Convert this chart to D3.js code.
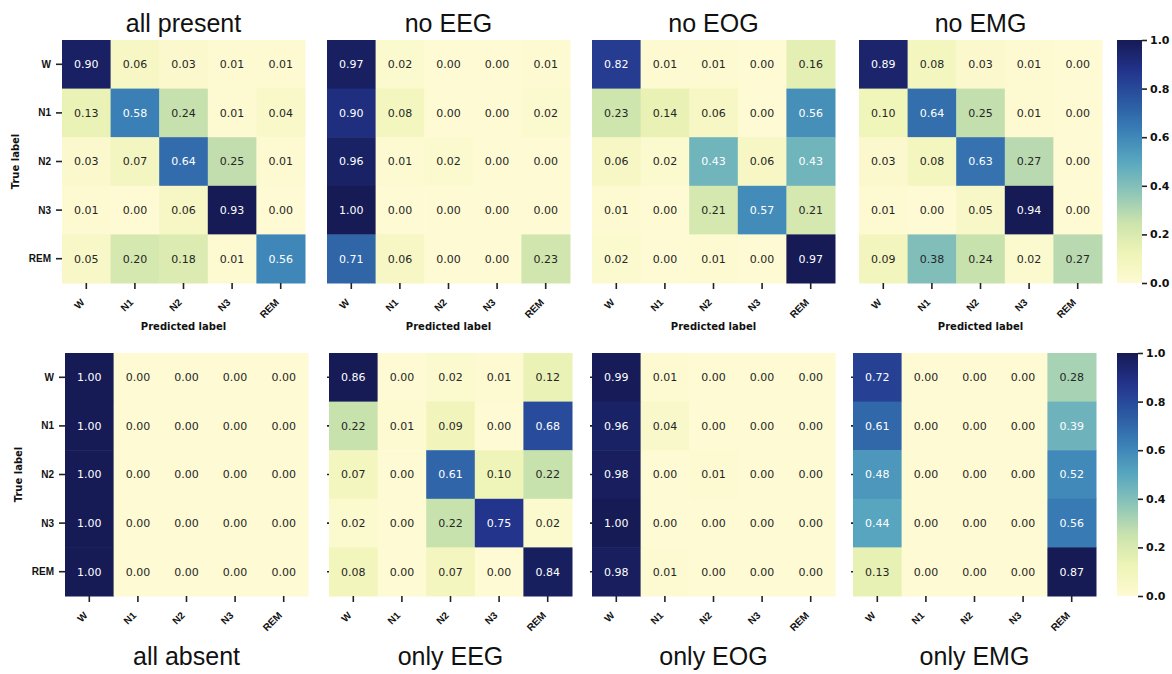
<!DOCTYPE html>
<html>
<head>
<meta charset="utf-8">
<script src="https://cdn.jsdelivr.net/npm/d3@7"></script>
<style>
body {margin:0; background:#fff;}
</style>
</head>
<body>
<svg></svg>
<script>
var stages = ["W", "N1", "N2", "N3", "REM"]

var allPresent = [[0.90,0.06,0.03,0.01,0.01],[0.13,0.58,0.24,0.01,0.04],[0.03,0.07,0.64,0.25,0.01],[0.01,0.00,0.06,0.93,0.00],[0.05,0.20,0.18,0.01,0.56]]
var noEEG = [[0.97,0.02,0.00,0.00,0.01],[0.90,0.08,0.00,0.00,0.02],[0.96,0.01,0.02,0.00,0.00],[1.00,0.00,0.00,0.00,0.00],[0.71,0.06,0.00,0.00,0.23]]
var noEOG = [[0.82,0.01,0.01,0.00,0.16],[0.23,0.14,0.06,0.00,0.56],[0.06,0.02,0.43,0.06,0.43],[0.01,0.00,0.21,0.57,0.21],[0.02,0.00,0.01,0.00,0.97]]
var noEMG = [[0.89,0.08,0.03,0.01,0.00],[0.10,0.64,0.25,0.01,0.00],[0.03,0.08,0.63,0.27,0.00],[0.01,0.00,0.05,0.94,0.00],[0.09,0.38,0.24,0.02,0.27]]
var allAbsent = [[1.00,0.00,0.00,0.00,0.00],[1.00,0.00,0.00,0.00,0.00],[1.00,0.00,0.00,0.00,0.00],[1.00,0.00,0.00,0.00,0.00],[1.00,0.00,0.00,0.00,0.00]]
var onlyEEG = [[0.86,0.00,0.02,0.01,0.12],[0.22,0.01,0.09,0.00,0.68],[0.07,0.00,0.61,0.10,0.22],[0.02,0.00,0.22,0.75,0.02],[0.08,0.00,0.07,0.00,0.84]]
var onlyEOG = [[0.99,0.01,0.00,0.00,0.00],[0.96,0.04,0.00,0.00,0.00],[0.98,0.00,0.01,0.00,0.00],[1.00,0.00,0.00,0.00,0.00],[0.98,0.01,0.00,0.00,0.00]]
var onlyEMG = [[0.72,0.00,0.00,0.00,0.28],[0.61,0.00,0.00,0.00,0.39],[0.48,0.00,0.00,0.00,0.52],[0.44,0.00,0.00,0.00,0.56],[0.13,0.00,0.00,0.00,0.87]]

var topTitles = ["all present", "no EEG", "no EOG", "no EMG"]
var bottomTitles = ["all absent", "only EEG", "only EOG", "only EMG"]
var topMatrices = [allPresent, noEEG, noEOG, noEMG]
var bottomMatrices = [allAbsent, onlyEEG, onlyEOG, onlyEMG]
var cbarTicks = [0.0, 0.2, 0.4, 0.6, 0.8, 1.0]

// YlGnBu, toned to the slightly muted print of the figure
var palette = ["#fefad3", "#eef4b6", "#cbe3ad", "#8dc5b8", "#58a7bf", "#3a80b6", "#2b58a2", "#23338b", "#161a55"]

var screen = {width: 1172, height: 674}
var size = 243
var rows = [
    {y: 40, xs: [62, 327, 592, 859], titles: topTitles, mats: topMatrices, titleY: 32, xlabel: true, cbarW: 25, ytick: 0},
    {y: 353, xs: [65, 329, 592, 853], titles: bottomTitles, mats: bottomMatrices, titleY: 665, xlabel: false, cbarW: 21, ytick: 2}
]
var cbarX = 1117

var svg = d3.select("svg")
    .attr("width", screen.width)
    .attr("height", screen.height)
    .style("font-family", "'DejaVu Sans', sans-serif")

// seaborn picks dark or white annotation text from the cell luminance
var textColor = function(c)
{
    var rgb = d3.rgb(c)
    var lin = [rgb.r, rgb.g, rgb.b].map(function(v) {
        v = v / 255
        return v <= 0.03928 ? v / 12.92 : Math.pow((v + 0.055) / 1.055, 2.4)
    })
    var lum = 0.2126 * lin[0] + 0.7152 * lin[1] + 0.0722 * lin[2]
    return lum > 0.408 ? "#262626" : "#ffffff"
}

var drawPanel = function(mat, title, x0, y0, row, col)
{
    var g = svg.append("g").attr("transform", "translate(" + x0 + "," + y0 + ")")

    var xScale = d3.scaleBand().domain(stages).range([0, size])
    var yScale = d3.scaleBand().domain(stages).range([0, size])

    var ext = d3.extent(d3.merge(mat))
    var cScale = d3.scaleLinear()
        .domain(d3.range(9).map(function(i) { return ext[0] + (ext[1] - ext[0]) * i / 8 }))
        .range(palette)

    var cells = []
    mat.forEach(function(r, i) {
        r.forEach(function(v, j) { cells.push({t: stages[i], p: stages[j], v: v}) })
    })

    g.selectAll("rect.cell")
        .data(cells)
        .enter()
        .append("rect")
        .attr("class", "cell")
        .attr("x", function(d) { return xScale(d.p) })
        .attr("y", function(d) { return yScale(d.t) })
        .attr("width", xScale.bandwidth() + 0.5)
        .attr("height", yScale.bandwidth() + 0.5)
        .attr("fill", function(d) { return cScale(d.v) })

    g.selectAll("text.val")
        .data(cells)
        .enter()
        .append("text")
        .attr("class", "val")
        .attr("x", function(d) { return xScale(d.p) + xScale.bandwidth() / 2 })
        .attr("y", function(d) { return yScale(d.t) + yScale.bandwidth() / 2 })
        .attr("dy", "0.36em")
        .attr("text-anchor", "middle")
        .attr("font-size", 11)
        .attr("fill", function(d) { return textColor(cScale(d.v)) })
        .text(function(d) { return d.v.toFixed(2) })

    // x axis
    var xAxis = g.append("g").attr("transform", "translate(0," + size + ")")
        .call(d3.axisBottom(xScale).tickSize(6).tickFormat(""))
    xAxis.select(".domain").remove()
    xAxis.selectAll("line").attr("stroke", "#222").attr("stroke-width", 1.6)
    xAxis.selectAll(".tick")
        .append("text")
        .attr("transform", "translate(-1,20) rotate(-45)")
        .attr("text-anchor", "end")
        .attr("fill", "#111")
        .attr("font-size", 10)
        .attr("font-weight", "bold")
        .text(function(d) { return d })

    // y axis, labels on the first column only
    var yAxis = g.append("g")
        .call(d3.axisLeft(yScale).tickSize(col == 0 ? 6 : row.ytick).tickFormat(""))
    yAxis.select(".domain").remove()
    yAxis.selectAll("line").attr("stroke", "#222").attr("stroke-width", 1.6)
    if (col == 0) {
        yAxis.selectAll(".tick")
            .append("text")
            .attr("x", -11)
            .attr("dy", "0.35em")
            .attr("text-anchor", "end")
            .attr("fill", "#111")
            .attr("font-size", 10)
            .attr("font-weight", "bold")
            .text(function(d) { return d })

        g.append("text")
            .attr("transform", "translate(-43," + size / 2 + ") rotate(-90)")
            .attr("text-anchor", "middle")
            .attr("font-size", 10)
            .attr("font-weight", "bold")
            .attr("fill", "#111")
            .text("True label")
    }

    if (row.xlabel) {
        g.append("text")
            .attr("x", size / 2)
            .attr("y", size + 47)
            .attr("text-anchor", "middle")
            .attr("font-size", 10)
            .attr("font-weight", "bold")
            .attr("fill", "#111")
            .text("Predicted label")
    }

    svg.append("text")
        .attr("x", x0 + size / 2)
        .attr("y", row.titleY)
        .attr("text-anchor", "middle")
        .attr("font-family", "'Liberation Sans', Arial, sans-serif")
        .attr("font-size", 25)
        .attr("fill", "#111")
        .text(title)
}

var drawColorbar = function(y0, w, idx)
{
    var id = "cbar" + idx
    var grad = svg.append("defs").append("linearGradient")
        .attr("id", id)
        .attr("x1", 0).attr("y1", 1).attr("x2", 0).attr("y2", 0)
    grad.selectAll("stop")
        .data(palette)
        .enter()
        .append("stop")
        .attr("offset", function(d, i) { return i / 8 })
        .attr("stop-color", function(d) { return d })

    var g = svg.append("g").attr("transform", "translate(" + cbarX + "," + y0 + ")")
    g.append("rect")
        .attr("width", w)
        .attr("height", size)
        .attr("fill", "url(#" + id + ")")

    var cb = d3.scaleLinear().domain([0, 1]).range([size, 0])
    var ax = g.append("g").attr("transform", "translate(" + w + ",0)")
        .call(d3.axisRight(cb).tickValues(cbarTicks).tickSize(5).tickPadding(3).tickFormat(d3.format(".1f")))
    ax.select(".domain").remove()
    ax.selectAll("line").attr("stroke", "#222").attr("stroke-width", 1.6)
    ax.selectAll("text")
        .attr("font-family", "'DejaVu Sans', sans-serif")
        .attr("font-size", 11)
        .attr("font-weight", "bold")
        .attr("fill", "#111")
}

rows.forEach(function(row, r) {
    row.mats.forEach(function(mat, c) {
        drawPanel(mat, row.titles[c], row.xs[c], row.y, row, c)
    })
    drawColorbar(row.y, row.cbarW, r)
})
</script>
</body>
</html>
